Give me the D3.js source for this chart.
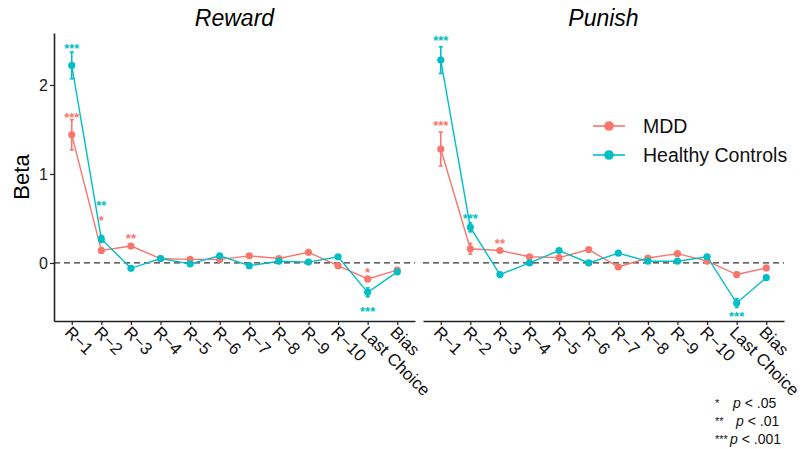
<!DOCTYPE html>
<html>
<head>
<meta charset="utf-8">
<script src="https://cdn.jsdelivr.net/npm/d3@7"></script>
<style>
  body { margin: 0; background: #fff; }
  svg { font-family: "Liberation Sans", Arial, sans-serif; }
</style>
</head>
<body>
<svg id="chart" width="802" height="449"></svg>
<script>
// ---- data ----
const predictors = ["R−1", "R−2", "R−3", "R−4", "R−5", "R−6", "R−7", "R−8", "R−9", "R−10", "Last Choice", "Bias"];
const conditions = ["Reward", "Punish"];
const groups = ["MDD", "Healthy Controls"];
const groupColors = ["#F8766D", "#00BFC4"];

const rewardMDD = [1.44, 0.14, 0.19, 0.05, 0.04, 0.04, 0.08, 0.05, 0.12, -0.03, -0.18, -0.08];
const rewardMDDse = [0.17, 0.03, 0.02, 0.02, 0.02, 0.02, 0.02, 0.02, 0.02, 0.02, 0.03, 0.02];
const rewardHC = [2.22, 0.27, -0.06, 0.05, -0.01, 0.08, -0.03, 0.02, 0.01, 0.07, -0.33, -0.10];
const rewardHCse = [0.15, 0.04, 0.02, 0.02, 0.02, 0.02, 0.02, 0.02, 0.02, 0.02, 0.05, 0.02];
const punishMDD = [1.28, 0.16, 0.14, 0.07, 0.06, 0.15, -0.045, 0.056, 0.105, 0.02, -0.13, -0.056];
const punishMDDse = [0.19, 0.06, 0.02, 0.02, 0.02, 0.02, 0.02, 0.02, 0.02, 0.02, 0.03, 0.02];
const punishHC = [2.28, 0.40, -0.13, 0.0, 0.14, 0.0, 0.11, 0.02, 0.02, 0.07, -0.45, -0.165];
const punishHCse = [0.15, 0.05, 0.02, 0.02, 0.02, 0.02, 0.02, 0.02, 0.02, 0.02, 0.05, 0.02];

// significance labels: [predictor, label, y in beta units]
const rewardMDDsig = [["R−1", "***", 1.67], ["R−2", "*", 0.52], ["R−3", "**", 0.31], ["Last Choice", "*", -0.07]];
const rewardHCsig = [["R−1", "***", 2.45], ["R−2", "**", 0.69], ["Last Choice", "***", -0.51]];
const punishMDDsig = [["R−1", "***", 1.58], ["R−3", "**", 0.26]];
const punishHCsig = [["R−1", "***", 2.54], ["R−2", "***", 0.54], ["Last Choice", "***", -0.56]];

const yTicks = [0, 1, 2];
const pNotes = [["*", "p", " < .05"], ["**", "p", " < .01"], ["***", "p", " < .001"]];

// ---- layout ----
const panels = [
  { title: conditions[0], x0: 54, x1: 415, series: [[rewardMDD, rewardMDDse, rewardMDDsig], [rewardHC, rewardHCse, rewardHCsig]] },
  { title: conditions[1], x0: 423, x1: 784, series: [[punishMDD, punishMDDse, punishMDDsig], [punishHC, punishHCse, punishHCsig]] }
];
const panelTop = 33, panelBottom = 321;
const axisColor = "#222";

const svg = d3.select("#chart");
const y = d3.scaleLinear().domain([-0.652, 2.584]).range([panelBottom, panelTop]);

panels.forEach((p, pi) => {
  const x = d3.scalePoint().domain(predictors).range([p.x0, p.x1]).padding(0.6);
  const g = svg.append("g");

  // zero reference line
  g.append("line")
    .attr("x1", p.x0).attr("x2", p.x1)
    .attr("y1", y(0)).attr("y2", y(0))
    .attr("stroke", "#333").attr("stroke-width", 1.2)
    .attr("stroke-dasharray", "6,4");

  p.series.forEach(([vals, ses, sig], gi) => {
    const col = groupColors[gi];
    const pts = predictors.map((k, i) => ({ k, v: vals[i], se: ses[i] }));

    g.append("path")
      .datum(pts)
      .attr("fill", "none")
      .attr("stroke", col)
      .attr("stroke-width", 1.4)
      .attr("d", d3.line().x(d => x(d.k)).y(d => y(d.v)));

    const eb = g.selectAll(null).data(pts).enter().append("g").attr("stroke", col).attr("stroke-width", 1.6);
    eb.append("line").attr("x1", d => x(d.k)).attr("x2", d => x(d.k))
      .attr("y1", d => y(d.v - d.se)).attr("y2", d => y(d.v + d.se));
    eb.append("line").attr("x1", d => x(d.k) - 2).attr("x2", d => x(d.k) + 2)
      .attr("y1", d => y(d.v - d.se)).attr("y2", d => y(d.v - d.se));
    eb.append("line").attr("x1", d => x(d.k) - 2).attr("x2", d => x(d.k) + 2)
      .attr("y1", d => y(d.v + d.se)).attr("y2", d => y(d.v + d.se));

    g.selectAll(null).data(pts).enter().append("circle")
      .attr("cx", d => x(d.k)).attr("cy", d => y(d.v))
      .attr("r", 3.6).attr("fill", col);

    g.selectAll(null).data(sig).enter().append("text")
      .attr("x", d => x(d[0])).attr("y", d => y(d[2]) + 8)
      .attr("text-anchor", "middle")
      .style("font-size", "13px").style("font-weight", "bold")
      .attr("fill", col)
      .text(d => d[1]);
  });

  // x axis
  const xa = g.append("g").attr("transform", `translate(0,${panelBottom})`)
    .call(d3.axisBottom(x).tickSize(4).tickSizeOuter(0));
  xa.select(".domain").attr("stroke", axisColor).attr("stroke-width", 1.6);
  xa.selectAll(".tick line").attr("stroke", axisColor).attr("stroke-width", 1.2);
  xa.selectAll(".tick text")
    .attr("fill", "#111")
    .style("font-size", "17px")
    .attr("text-anchor", "start")
    .attr("dy", null)
    .attr("transform", "translate(0,4) rotate(45)")
    .attr("y", 0).attr("x", 0)
    .attr("dominant-baseline", "hanging");

  // y axis on first panel only
  if (pi === 0) {
    const ya = g.append("g").attr("transform", `translate(${p.x0},0)`)
      .call(d3.axisLeft(y).tickValues(yTicks).tickFormat(d3.format("d")).tickSize(4).tickSizeOuter(0));
    ya.select(".domain").attr("stroke", axisColor).attr("stroke-width", 1.6);
    ya.selectAll(".tick line").attr("stroke", axisColor).attr("stroke-width", 1.2);
    ya.selectAll(".tick text").attr("fill", "#222").style("font-size", "16px").attr("x", -6);
  }

  // panel title
  svg.append("text")
    .attr("x", (p.x0 + p.x1) / 2).attr("y", 26)
    .attr("text-anchor", "middle")
    .style("font-size", "23px").style("font-style", "italic")
    .text(p.title);
});

// y label
svg.append("text")
  .attr("transform", `translate(29,177) rotate(-90)`)
  .attr("text-anchor", "middle")
  .style("font-size", "22px")
  .text("Beta");

// legend
const legend = svg.append("g").attr("transform", "translate(593,126)");
groups.forEach((gname, i) => {
  const row = legend.append("g").attr("transform", `translate(0,${i * 29})`);
  row.append("line").attr("x1", 0).attr("x2", 32).attr("y1", 0).attr("y2", 0)
    .attr("stroke", groupColors[i]).attr("stroke-width", 1.6);
  row.append("circle").attr("cx", 16).attr("cy", 0).attr("r", 4.8).attr("fill", groupColors[i]);
  row.append("text").attr("x", 50).attr("y", 7)
    .style("font-size", "19.5px").attr("fill", "#111").text(gname);
});

// p-value note
const note = svg.append("g").attr("fill", "#111");
pNotes.forEach(([stars, pl, rest], i) => {
  const yy = 408 + i * 18;
  note.append("text").attr("x", 715).attr("y", yy - 1)
    .style("font-size", "11px").text(stars);
  const t = note.append("text").attr("x", [733, 736, 730][i]).attr("y", yy)
    .style("font-size", "14px");
  t.append("tspan").style("font-style", "italic").text(pl);
  t.append("tspan").text(rest);
});
</script>
</body>
</html>
